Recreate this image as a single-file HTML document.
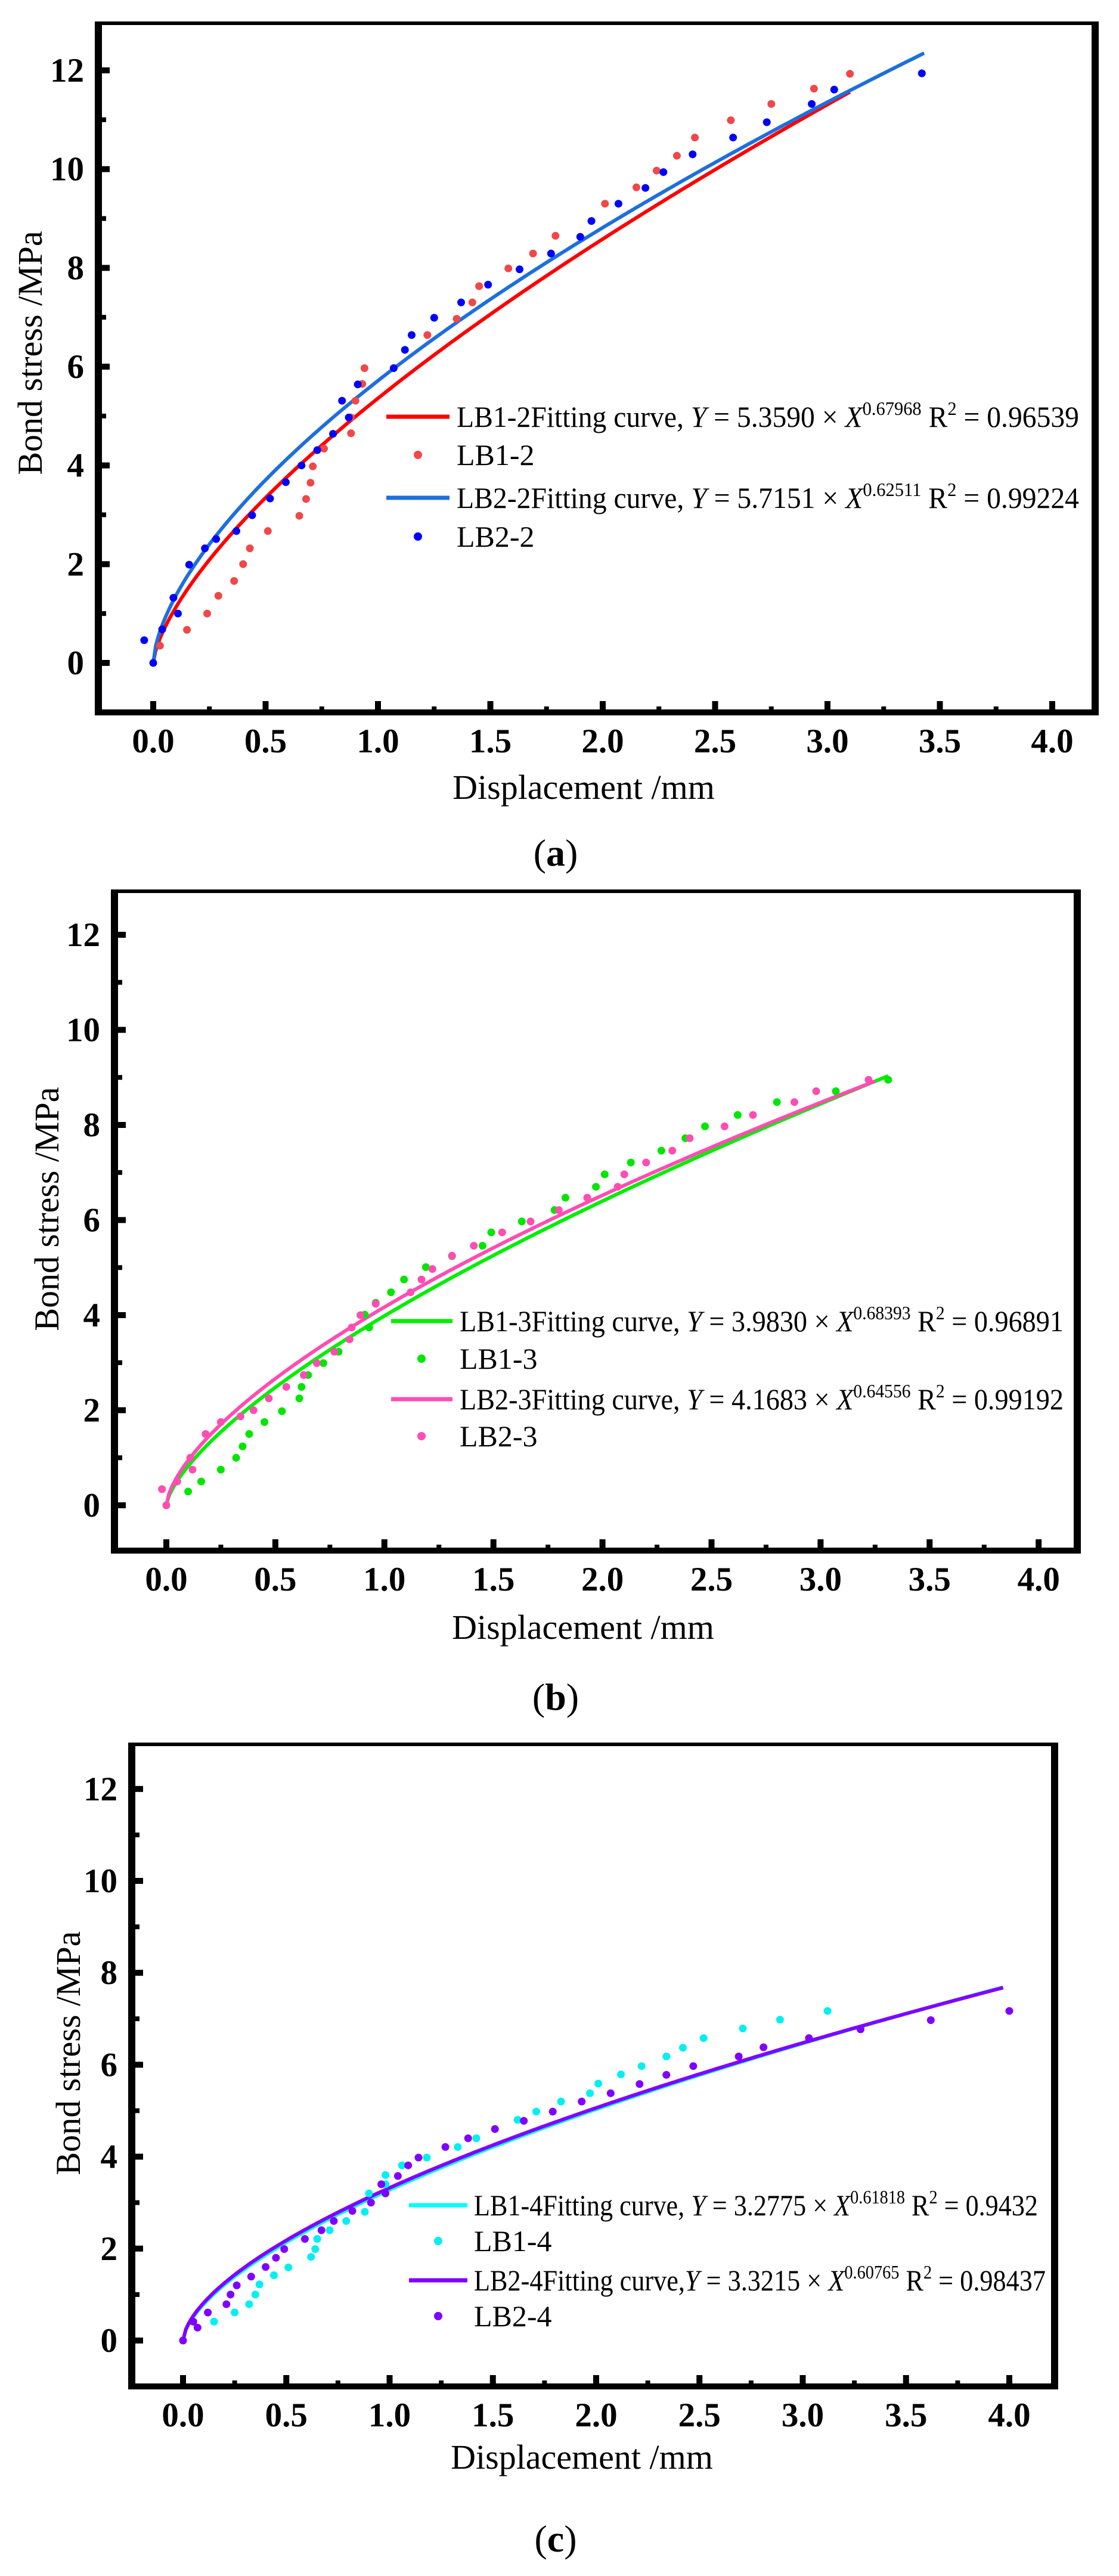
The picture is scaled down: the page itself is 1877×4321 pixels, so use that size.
<!DOCTYPE html>
<html><head><meta charset="utf-8"><style>html,body{margin:0;padding:0;background:#fff}svg{display:block}
text{font-family:"Liberation Serif",serif}</style></head><body>
<svg id="s" width="1877" height="4321" viewBox="0 0 1877 4321" xmlns="http://www.w3.org/2000/svg">
<rect width="1877" height="4321" fill="#fff"/>
<g id="plots"></g>
<g font-size="57" font-weight="bold" fill="#000" id="ticklabels"></g>
<!-- Panel a texts -->
<text x="979" y="1340" font-size="58" text-anchor="middle">Displacement /mm</text>
<text transform="translate(70,592) rotate(-90)" font-size="58" text-anchor="middle">Bond stress /MPa</text>
<text x="932" y="1452" font-size="64" text-anchor="middle">(<tspan font-weight="bold">a</tspan>)</text>
<text x="978" y="2749" font-size="58" text-anchor="middle">Displacement /mm</text>
<text transform="translate(98,2028) rotate(-90)" font-size="58" text-anchor="middle">Bond stress /MPa</text>
<text x="932" y="2868" font-size="64" text-anchor="middle">(<tspan font-weight="bold">b</tspan>)</text>
<text x="976" y="4141" font-size="58" text-anchor="middle">Displacement /mm</text>
<text transform="translate(134,3444) rotate(-90)" font-size="58" text-anchor="middle">Bond stress /MPa</text>
<text x="932" y="4280" font-size="64" text-anchor="middle">(<tspan font-weight="bold">c</tspan>)</text>
<!-- legends -->
<g font-size="50">
<line x1="648" y1="699" x2="754" y2="699" stroke="#ff0000" stroke-width="7"/>
<text x="766" y="716" textLength="1044" lengthAdjust="spacingAndGlyphs">LB1-2Fitting curve, <tspan font-style="italic">Y</tspan> = 5.3590 × <tspan font-style="italic">X</tspan><tspan font-size="32" dy="-20">0.67968</tspan><tspan dy="20"> R</tspan><tspan font-size="32" dy="-20">2</tspan><tspan dy="20"> = 0.96539</tspan></text>
<ellipse cx="701" cy="763" rx="7" ry="7" fill="#f04848"/>
<text x="766" y="780">LB1-2</text>
<line x1="648" y1="835" x2="754" y2="835" stroke="#1e6fdc" stroke-width="7"/>
<text x="766" y="852" textLength="1044" lengthAdjust="spacingAndGlyphs">LB2-2Fitting curve, <tspan font-style="italic">Y</tspan> = 5.7151 × <tspan font-style="italic">X</tspan><tspan font-size="32" dy="-20">0.62511</tspan><tspan dy="20"> R</tspan><tspan font-size="32" dy="-20">2</tspan><tspan dy="20"> = 0.99224</tspan></text>
<ellipse cx="701" cy="900" rx="7" ry="7" fill="#0000ff"/>
<text x="766" y="917">LB2-2</text>

<line x1="656" y1="2216" x2="759" y2="2216" stroke="#00ee00" stroke-width="7"/>
<text x="771" y="2233" textLength="1013" lengthAdjust="spacingAndGlyphs">LB1-3Fitting curve, <tspan font-style="italic">Y</tspan> = 3.9830 × <tspan font-style="italic">X</tspan><tspan font-size="32" dy="-20">0.68393</tspan><tspan dy="20"> R</tspan><tspan font-size="32" dy="-20">2</tspan><tspan dy="20"> = 0.96891</tspan></text>
<ellipse cx="707" cy="2279" rx="7" ry="7" fill="#00e600"/>
<text x="771" y="2296">LB1-3</text>
<line x1="656" y1="2347" x2="759" y2="2347" stroke="#ff4db2" stroke-width="7"/>
<text x="771" y="2364" textLength="1013" lengthAdjust="spacingAndGlyphs">LB2-3Fitting curve, <tspan font-style="italic">Y</tspan> = 4.1683 × <tspan font-style="italic">X</tspan><tspan font-size="32" dy="-20">0.64556</tspan><tspan dy="20"> R</tspan><tspan font-size="32" dy="-20">2</tspan><tspan dy="20"> = 0.99192</tspan></text>
<ellipse cx="707" cy="2409" rx="7" ry="7" fill="#ff4db2"/>
<text x="771" y="2426">LB2-3</text>

<line x1="686" y1="3699" x2="784" y2="3699" stroke="#00ffff" stroke-width="7"/>
<text x="795" y="3716" textLength="946" lengthAdjust="spacingAndGlyphs">LB1-4Fitting curve, <tspan font-style="italic">Y</tspan> = 3.2775 × <tspan font-style="italic">X</tspan><tspan font-size="32" dy="-20">0.61818</tspan><tspan dy="20"> R</tspan><tspan font-size="32" dy="-20">2</tspan><tspan dy="20"> = 0.9432</tspan></text>
<ellipse cx="735" cy="3759" rx="7" ry="7" fill="#00f0f0"/>
<text x="795" y="3776">LB1-4</text>
<line x1="686" y1="3825" x2="784" y2="3825" stroke="#8000ff" stroke-width="7"/>
<text x="795" y="3842" textLength="959" lengthAdjust="spacingAndGlyphs">LB2-4Fitting curve,<tspan font-style="italic">Y</tspan> = 3.3215 × <tspan font-style="italic">X</tspan><tspan font-size="32" dy="-20">0.60765</tspan><tspan dy="20"> R</tspan><tspan font-size="32" dy="-20">2</tspan><tspan dy="20"> = 0.98437</tspan></text>
<ellipse cx="735" cy="3885" rx="7" ry="7" fill="#8000ff"/>
<text x="795" y="3902">LB2-4</text>
</g>
</svg>
<script>
var NS="http://www.w3.org/2000/svg";
var P=document.getElementById("plots"), TL=document.getElementById("ticklabels");
function el(t,a,p){var e=document.createElementNS(NS,t);for(var k in a)e.setAttribute(k,a[k]);(p||P).appendChild(e);return e;}
var panels=[
{x0:257,sx:377,y0:1112,sy:82.83,L:159,T:36,R:1843,B:1200,
 curves:[[5.3590,0.67968,3.1,"#ff0000"],[5.7151,0.62511,3.43,"#1e6fdc"]],
 dots:[["#f04848",[[0.03,0.35],[0.15,0.67],[0.24,1.0],[0.29,1.36],[0.36,1.66],[0.40,2.0],[0.43,2.32],[0.51,2.67],[0.65,2.98],[0.68,3.32],[0.70,3.65],[0.71,3.98],[0.76,4.34],[0.88,4.65],[0.88,4.97],[0.90,5.31],[0.93,5.65],[0.94,5.97],[1.22,6.64],[1.35,6.97],[1.42,7.30],[1.45,7.63],[1.58,7.99],[1.69,8.29],[1.79,8.65],[1.95,8.95],[2.01,9.30],[2.15,9.63],[2.24,9.97],[2.33,10.27],[2.41,10.64],[2.57,10.99],[2.75,11.32],[2.94,11.63],[3.10,11.93]]],
 ["#0000ff",[[-0.04,0.46],[0,0],[0.04,0.68],[0.09,1.32],[0.11,1.0],[0.16,1.99],[0.23,2.32],[0.28,2.51],[0.37,2.67],[0.44,2.99],[0.52,3.33],[0.59,3.66],[0.66,4.0],[0.73,4.31],[0.80,4.64],[0.84,5.31],[0.87,4.97],[0.91,5.64],[1.07,5.97],[1.12,6.34],[1.15,6.64],[1.25,6.99],[1.37,7.30],[1.49,7.66],[1.63,7.97],[1.77,8.29],[1.90,8.63],[1.95,8.95],[2.07,9.30],[2.19,9.62],[2.27,9.94],[2.40,10.30],[2.58,10.64],[2.73,10.95],[2.93,11.32],[3.03,11.61],[3.42,11.94]]]]},
{x0:279,sx:365.8,y0:2525,sy:79.75,L:186,T:1492,R:1813,B:2606,
 curves:[[3.9830,0.68393,3.31,"#00ee00"],[4.1683,0.64556,3.25,"#ff4db2"]],
 dots:[["#00e600",[[0,0],[0.10,0.29],[0.16,0.50],[0.25,0.75],[0.32,1.0],[0.35,1.24],[0.38,1.50],[0.45,1.75],[0.53,1.98],[0.61,2.25],[0.62,2.49],[0.65,2.74],[0.72,2.99],[0.79,3.23],[0.93,3.74],[0.91,4.01],[0.96,4.26],[1.03,4.48],[1.09,4.75],[1.19,5.01],[1.31,5.24],[1.45,5.46],[1.49,5.74],[1.63,5.97],[1.78,6.21],[1.83,6.47],[1.97,6.70],[2.01,6.96],[2.13,7.21],[2.27,7.46],[2.38,7.72],[2.47,7.97],[2.62,8.21],[2.80,8.48],[3.07,8.71],[3.31,8.95]]],
 ["#ff4db2",[[-0.02,0.34],[0,0],[0.05,0.50],[0.11,1.0],[0.12,0.75],[0.18,1.50],[0.25,1.75],[0.34,1.87],[0.40,2.0],[0.47,2.25],[0.55,2.49],[0.63,2.74],[0.69,2.99],[0.77,3.23],[0.84,3.49],[0.85,3.74],[0.89,4.0],[0.96,4.24],[1.12,4.48],[1.17,4.75],[1.22,4.97],[1.31,5.25],[1.41,5.46],[1.54,5.74],[1.67,5.97],[1.80,6.21],[1.93,6.47],[2.07,6.70],[2.10,6.96],[2.20,7.21],[2.32,7.46],[2.40,7.72],[2.56,7.97],[2.69,8.21],[2.88,8.48],[2.98,8.71],[3.22,8.95]]]]},
{x0:307,sx:346.5,y0:3926,sy:77.1,L:215,T:2923,R:1775,B:4008,
 curves:[[3.2775,0.61818,3.97,"#00ffff"],[3.3215,0.60765,3.97,"#8000ff"]],
 dots:[["#00f0f0",[[0,0],[0.15,0.41],[0.25,0.61],[0.32,0.79],[0.35,1.0],[0.37,1.22],[0.44,1.42],[0.51,1.59],[0.62,1.82],[0.64,1.99],[0.65,2.21],[0.71,2.40],[0.79,2.60],[0.88,2.80],[0.90,3.20],[0.98,3.40],[0.98,3.60],[1.06,3.81],[1.18,3.98],[1.33,4.21],[1.42,4.40],[1.51,4.60],[1.62,4.80],[1.71,4.98],[1.83,5.20],[1.97,5.38],[2.01,5.59],[2.12,5.79],[2.22,5.97],[2.34,6.18],[2.42,6.37],[2.52,6.58],[2.71,6.79],[2.89,6.98],[3.12,7.17]]],
 ["#8000ff",[[0,0],[0.05,0.41],[0.07,0.28],[0.12,0.61],[0.21,0.79],[0.23,1.0],[0.26,1.2],[0.33,1.39],[0.40,1.60],[0.45,1.80],[0.49,1.99],[0.59,2.21],[0.67,2.40],[0.73,2.60],[0.82,2.82],[0.91,3.0],[0.98,3.20],[0.96,3.40],[1.04,3.58],[1.09,3.81],[1.14,3.98],[1.27,4.21],[1.38,4.40],[1.51,4.60],[1.65,4.78],[1.79,4.98],[1.93,5.20],[2.07,5.38],[2.21,5.58],[2.34,5.78],[2.47,5.97],[2.69,6.18],[2.81,6.38],[3.03,6.58],[3.28,6.77],[3.62,6.97],[4.0,7.17]]]]}
];
panels.forEach(function(p){
  var X=function(x){return p.x0+x*p.sx}, Y=function(y){return p.y0-y*p.sy};
  // curves (drawn below dots? original: dots above curves)
  p.curves.forEach(function(c){
    var d="";for(var i=0;i<=300;i++){var x=c[2]*i/300;var y=c[0]*Math.pow(x,c[1]);d+=(i?"L":"M")+X(x).toFixed(1)+","+Y(y).toFixed(1);}
    el("path",{d:d,fill:"none",stroke:c[3],"stroke-width":6,"stroke-linejoin":"round"});
  });
  p.dots.forEach(function(s){s[1].forEach(function(q){el("circle",{cx:X(q[0]).toFixed(1),cy:Y(q[1]).toFixed(1),r:6.5,fill:s[0]});});});
  // frame
  el("rect",{x:p.L,y:p.T,width:p.R-p.L,height:6,fill:"#000"});
  el("rect",{x:p.L,y:p.B-10,width:p.R-p.L,height:10,fill:"#000"});
  el("rect",{x:p.L,y:p.T,width:12,height:p.B-p.T,fill:"#000"});
  el("rect",{x:p.R-12,y:p.T,width:12,height:p.B-p.T,fill:"#000"});
  // y ticks
  for(var v=-1;v<=13;v++){var y=Y(v);if(y<p.T+8||y>p.B-12)continue;
    var maj=(v%2===0);el("rect",{x:p.L+12,y:y-(maj?5:4),width:maj?13:7,height:maj?10:8,fill:"#000"});
    if(maj){var t=el("text",{x:p.L-18,y:(y+19).toFixed(1),"text-anchor":"end"},TL);t.textContent=String(v);}
  }
  for(var k=-1;k<=17;k++){var xv=k*0.25;var x=X(xv);if(x<p.L+14||x>p.R-14)continue;
    var maj=(k%2===0);el("rect",{x:x-(maj?5:4),y:p.B-10-(maj?14:5),width:maj?10:8,height:maj?14:5,fill:"#000"});
    if(maj){var t=el("text",{x:x.toFixed(1),y:p.B+62,"text-anchor":"middle"},TL);t.textContent=xv.toFixed(1);}
  }
});
</script>
</body></html>
